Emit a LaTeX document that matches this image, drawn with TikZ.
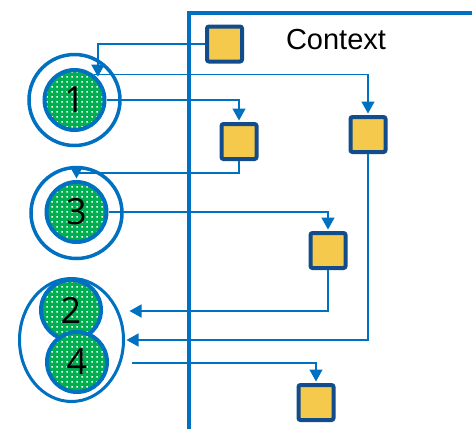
\documentclass[tikz,border=0pt]{standalone}
\usepackage{fontspec}
\setmainfont{Liberation Sans}
\newfontfamily\numfont{Open Sans}
\usetikzlibrary{arrows.meta, patterns, shapes.geometric}
\definecolor{ringBlue}{RGB}{0,112,192}
\definecolor{boxBlue}{RGB}{18,76,138}
\definecolor{boxYellow}{RGB}{245,202,76}
\definecolor{dotGreen}{RGB}{0,176,80}
% white dot grid on the green discs
\pgfdeclarepatternformonly{smalldots}{\pgfqpoint{0pt}{0pt}}{\pgfqpoint{5pt}{5pt}}{\pgfqpoint{5pt}{5pt}}{%
  \pgfpathrectangle{\pgfqpoint{1.7pt}{1.7pt}}{\pgfqpoint{1.6pt}{1.6pt}}\pgfusepath{fill}}

\begin{document}
\begin{tikzpicture}[x=1pt, y=-1pt, >={Triangle[width=13pt, length=12pt]},
    ctxbox/.style={draw=boxBlue, fill=boxYellow, line width=4pt, rounded corners=2pt,
      minimum size=35pt, inner sep=0pt},
    numcirc/.style={circle, draw=ringBlue, line width=4pt, preaction={fill=dotGreen},
      pattern=smalldots, pattern color=white, minimum size=60pt, inner sep=0pt,
      font=\numfont\fontsize{36}{36}\selectfont},
    ring/.style={circle, draw=ringBlue, line width=3.5pt, minimum size=91pt, inner sep=0pt},
    link/.style={->, draw=ringBlue, line width=1.4pt, shorten >=1.5pt}]
    \useasboundingbox (0,0) rectangle (472,429);

    % Context frame
    \draw[ringBlue, line width=4pt] (189,431) -- (189,13) -- (474,13);
    \node[font=\fontsize{29}{29}\selectfont] (ctx) at (336,40) {Context};

    % Boxes in the context
    \node[ctxbox] (boxA) at (224.5,44) {};
    \node[ctxbox] (boxB) at (239,141.5) {};
    \node[ctxbox] (boxC) at (368,134.5) {};
    \node[ctxbox] (boxD) at (328,250.5) {};
    \node[ctxbox] (boxE) at (316,402.5) {};

    % Numbered discs with their rings
    \node[ring] (r1) at (74.5,100) {};
    \node[ring] (r3) at (76.5,213) {};
    \node[ellipse, draw=ringBlue, line width=3pt, minimum width=104pt,
      minimum height=123pt, inner sep=0pt] (r24) at (71.5,340) {};
    \node[numcirc] (c1) at (74.5,100) {1};
    \node[numcirc] (c3) at (76.5,212) {3};
    \node[numcirc] (c2) at (71,310) {2};
    \node[numcirc] (c4) at (77,362) {4};

    \coordinate (in2) at (128,311);
    \coordinate (out4) at (132,363);

    % Connectors
    \draw[link] (boxA.west) -| (c1.43);
    \draw[link] (c1.52) -| (boxC.north);
    \draw[link] (c1.east) -| (boxB.north);
    \draw[link] (boxB.south) -- ++(0,12) -| (c3.north);
    \draw[link] (c3.east) -| (boxD.north);
    \draw[link] (boxD.south) |- (in2);
    \draw[link] (boxC.south) |- (r24.east);
    \draw[link] (out4) -| (boxE.north);
\end{tikzpicture}
\end{document}
